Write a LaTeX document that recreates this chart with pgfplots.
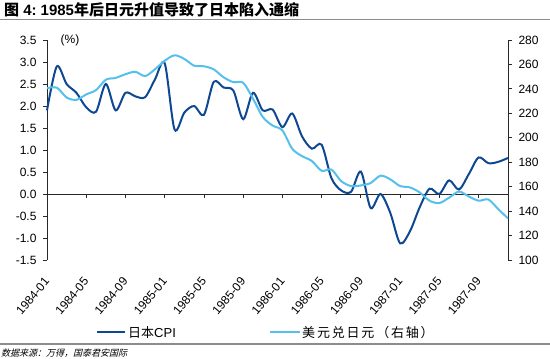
\documentclass[border=0pt]{standalone}
\usepackage{pgfplots}
\pgfplotsset{compat=1.18}
\usepackage{pgfplotstable}
\usepackage{fontspec}
\setmainfont{Liberation Sans}
\newfontfamily\cjk{Noto Sans CJK SC}
\newfontfamily\cjksp[LetterSpace=14]{Noto Sans CJK SC}
\newfontfamily\cjkit[FakeSlant=0.25]{Noto Sans CJK SC}
\definecolor{cpi}{RGB}{14,72,146}
\definecolor{yen}{RGB}{86,192,236}
\definecolor{axc}{RGB}{40,40,40}

\pgfplotstableread{
i cpi yen
0 1.90 240.5
1 2.90 241
2 2.50 233
3 2.30 231
4 1.97 235.5
5 1.87 239
6 2.50 247.5
7 1.90 249
8 2.30 252
9 2.22 254
10 2.20 250.5
11 2.60 256
12 2.97 263
13 1.47 267.5
14 1.85 264.5
15 2.00 259
16 1.80 258.5
17 2.55 256
18 2.42 249.5
19 2.35 245.5
20 1.70 245
21 2.30 232
22 1.90 217
23 1.92 210
24 1.52 206
25 1.83 191
26 1.31 185
27 1.03 181
28 1.12 173
29 0.36 174
30 0.08 164.5
31 0.05 160.5
32 0.51 161
33 -0.32 163
34 0.00 169
35 -0.43 166
36 -1.12 160.5
37 -0.85 159.4
38 -0.30 155.3
39 0.12 148.5
40 0.00 146.6
41 0.31 151
42 0.10 156
43 0.45 152
44 0.83 148.5
45 0.70 149.5
46 0.73 141.7
47 0.82 134
}\datatable

\begin{document}
\begin{tikzpicture}[x=1pt,y=1pt]
\useasboundingbox (0,0) rectangle (550,359);
% title
\node[anchor=west, inner sep=0pt] at (4,349.5) {\fontsize{15}{17}\selectfont\bfseries{\cjk 图} 4:\hspace{4pt}1985{\cjk 年后日元升值导致了日本陷入通缩}};
\draw[line width=1.2pt, black!45] (0,339.5) -- (550,339.5);
% footer
\draw[line width=1.2pt, black!45] (0,15) -- (550,15);
\node[anchor=west, inner sep=0pt] at (1,6.3) {\fontsize{9}{10}\selectfont\cjkit 数据来源：万得，国泰君安国际};

\begin{axis}[
  at={(47pt,99pt)}, anchor=south west,
  scale only axis, width=461pt, height=220pt,
  xmin=0, xmax=47, ymin=-1.5, ymax=3.5,
  axis x line*=bottom, axis y line*=left,
  x axis line style={draw=none},
  y axis line style={line width=0.8pt, axc},
  tick align=outside,
  major tick length=4pt,
  xtick={0,4,8,12,16,20,24,28,32,36,40,44},
  xticklabels={1984-01,1984-05,1984-09,1985-01,1985-05,1985-09,1986-01,1986-05,1986-09,1987-01,1987-05,1987-09},
  x tick style={draw=none},
  xticklabel style={rotate=50, anchor=east, inner sep=0pt},
  xticklabel shift={15pt},
  ytick={-1.5,-1,...,3.5},
  y tick style={line width=0.8pt, axc},
  yticklabel style={/pgf/number format/.cd, fixed, fixed zerofill, precision=1},
  yticklabel shift={3pt},
  tick label style={font=\fontsize{12}{14}\selectfont, text=black},
  /pgf/number format/assume math mode=true,
  clip=false,
]
\draw[line width=0.8pt, axc] (axis cs:0,0) -- (axis cs:47,0);
\pgfplotsinvokeforeach{4,8,12,16,20,24,28,32,36,40,44}{
  \draw[line width=0.8pt, axc] (axis cs:#1,0) -- ++(0pt,-4pt);
}
\addplot[cpi, line width=2pt, smooth, tension=0.5] table[x=i, y=cpi] {\datatable};
\end{axis}

\begin{axis}[
  at={(47pt,99pt)}, anchor=south west,
  scale only axis, width=461pt, height=220pt,
  xmin=0, xmax=47, ymin=100, ymax=280,
  axis x line=none, axis y line*=right,
  y axis line style={line width=0.8pt, axc},
  tick align=outside,
  major tick length=4pt,
  ytick={100,120,...,280},
  y tick style={line width=0.8pt, axc},
  yticklabel shift={3pt},
  tick label style={font=\fontsize{12}{14}\selectfont, text=black},
  /pgf/number format/assume math mode=true,
]
\addplot[yen, line width=2pt, smooth, tension=0.5] table[x=i, y=yen] {\datatable};
\end{axis}

% (%) label
\node[inner sep=0pt] at (70,318.5) {\fontsize{12}{14}\selectfont (\%)};

% legend
\draw[cpi, line width=2pt] (97,26.5) -- (125,26.5);
\node[anchor=west, inner sep=0pt] at (128,26.5) {\fontsize{13}{15}\selectfont{\cjk 日本}CPI};
\draw[yen, line width=2pt] (270,26.5) -- (300,26.5);
\node[anchor=west, inner sep=0pt] at (302,26.5) {\fontsize{13}{15}\selectfont\cjksp 美元兑日元（右轴）};
\end{tikzpicture}
\end{document}
